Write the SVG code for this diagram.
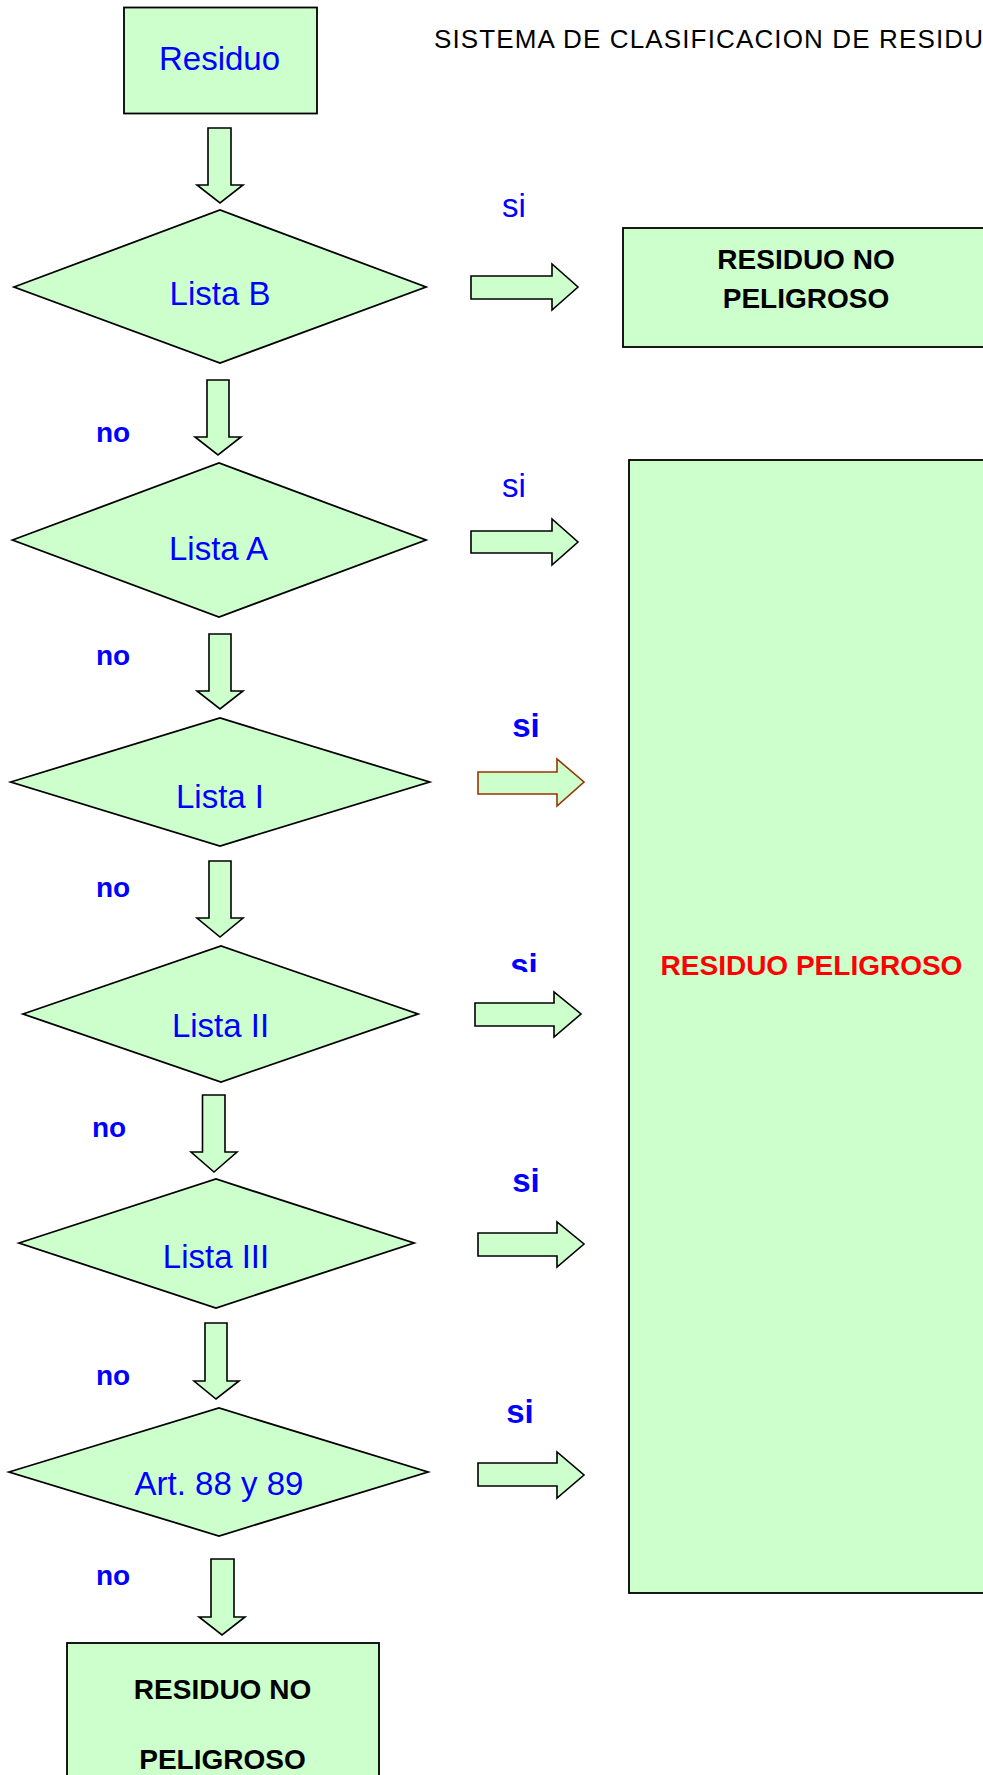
<svg xmlns="http://www.w3.org/2000/svg" width="983" height="1775" viewBox="0 0 983 1775">
<style>
.box{fill:#CCFFCC;stroke:#000;stroke-width:1.8}
.arr{fill:#CCFFCC;stroke:#000;stroke-width:1.6;stroke-linejoin:miter}
.arrb{fill:#CCFFCC;stroke:#993300;stroke-width:1.6}
.lbl{font-family:"Comic Sans MS","Liberation Sans",sans-serif;font-size:33px;fill:#0000FF;text-anchor:middle}
.si{font-family:"Comic Sans MS","Liberation Sans",sans-serif;font-size:33px;fill:#0000FF;text-anchor:middle}
.sib{font-weight:bold}
.no{font-family:"Comic Sans MS","Liberation Sans",sans-serif;font-size:28px;font-weight:bold;fill:#0000FF;text-anchor:middle}
.res{font-family:"Comic Sans MS","Liberation Sans",sans-serif;font-size:28px;font-weight:bold;fill:#000;text-anchor:middle}
.red{fill:#FF0000}
.title{font-family:"Liberation Sans",Arial,sans-serif;font-size:26px;fill:#000}
</style>
<defs>
<clipPath id="clipSi"><rect x="490" y="940" width="70" height="32"/></clipPath>
</defs>
<rect x="0" y="0" width="983" height="1775" fill="#FFFFFF"/>
<text class="title" x="434" y="48" textLength="549" lengthAdjust="spacing">SISTEMA DE CLASIFICACION DE RESIDU</text>

<g id="residuo">
<rect class="box" x="124" y="7.5" width="193" height="106"/>
<text class="lbl" x="219.5" y="70">Residuo</text>
</g>
<g id="listaB">
<polygon class="box" points="14,287 220,210 426,287 220,363"/>
<text class="lbl" x="220" y="305">Lista B</text>
</g>
<g id="noPeligroso1">
<rect class="box" x="623" y="228" width="400" height="119"/>
<text class="res" x="806" y="269">RESIDUO NO</text>
<text class="res" x="806" y="308">PELIGROSO</text>
</g>
<g id="listaA">
<polygon class="box" points="12.5,540 219,463 426,540 219,617"/>
<text class="lbl" x="218.5" y="560">Lista A</text>
</g>
<g id="peligroso">
<rect class="box" x="629" y="460" width="400" height="1133"/>
<text class="res red" x="811.5" y="975">RESIDUO PELIGROSO</text>
</g>
<g id="listaI">
<polygon class="box" points="10.7,782 220,718 429.5,782 220,846"/>
<text class="lbl" x="220" y="808">Lista I</text>
</g>
<g id="listaII">
<polygon class="box" points="23,1014 221,946 418,1014 221,1082"/>
<text class="lbl" x="220.5" y="1037">Lista II</text>
</g>
<g id="listaIII">
<polygon class="box" points="19,1243 216,1179 414,1243 216,1308"/>
<text class="lbl" x="216" y="1268">Lista III</text>
</g>
<g id="art">
<polygon class="box" points="9,1472 219,1408 428,1472 219,1536"/>
<text class="lbl" x="219" y="1495">Art. 88 y 89</text>
</g>
<g id="noPeligroso2">
<rect class="box" x="67" y="1643" width="312" height="150"/>
<text class="res" x="222.5" y="1699">RESIDUO NO</text>
<text class="res" x="222.5" y="1769">PELIGROSO</text>
</g>

<g id="connectors">
<path class="arr" d="M208,128 H231 V185 H243 L220,203 L197,185 H208 Z"/>
<path class="arr" d="M207,380 H229 V437 H241 L218,455 L195,437 H207 Z"/>
<path class="arr" d="M209,634 H231 V691 H243 L220,709 L197,691 H209 Z"/>
<path class="arr" d="M209,861 H231 V918 H243 L220,937 L197,918 H209 Z"/>
<path class="arr" d="M202.5,1095 H225 V1152 H237 L214,1172 L191,1152 H202.5 Z"/>
<path class="arr" d="M205,1323 H227 V1381 H239 L216,1399 L194,1381 H205 Z"/>
<path class="arr" d="M211,1559 H234 V1617 H245 L222,1635 L199,1617 H211 Z"/>

<path class="arr" d="M471,276 H552 V264 L578,287 L552,310 V299 H471 Z"/>
<path class="arr" d="M471,531 H552 V519 L578,542 L552,565 V553 H471 Z"/>
<path class="arrb" d="M478,772 H557 V759 L584,782 L557,806 V794 H478 Z"/>
<path class="arr" d="M475,1003 H554 V992 L581,1014 L554,1037 V1026 H475 Z"/>
<path class="arr" d="M478,1233 H557 V1222 L584,1244 L557,1267 V1256 H478 Z"/>
<path class="arr" d="M478,1463 H557 V1452 L584,1475 L557,1498 V1486 H478 Z"/>

<text class="si" x="514" y="217">si</text>
<text class="si" x="514" y="497">si</text>
<text class="si sib" x="526" y="737">si</text>
<text class="si sib" x="524" y="977" clip-path="url(#clipSi)">si</text>
<text class="si sib" x="526" y="1192">si</text>
<text class="si sib" x="520" y="1423">si</text>

<text class="no" x="113" y="442">no</text>
<text class="no" x="113" y="665">no</text>
<text class="no" x="113" y="897">no</text>
<text class="no" x="109" y="1137">no</text>
<text class="no" x="113" y="1385">no</text>
<text class="no" x="113" y="1585">no</text>
</g>
</svg>
